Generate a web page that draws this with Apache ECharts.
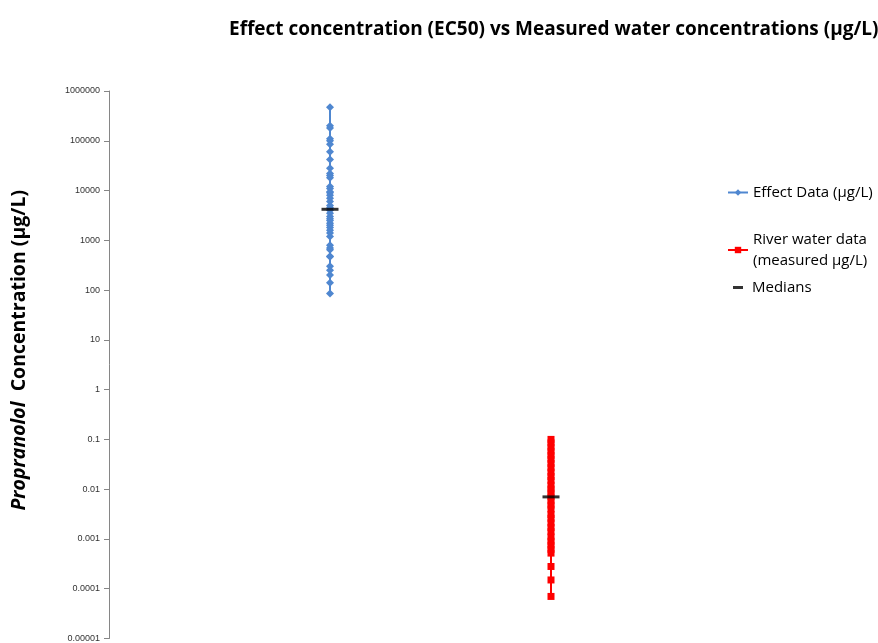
<!DOCTYPE html>
<html><head><meta charset="utf-8">
<script src="https://cdn.jsdelivr.net/npm/echarts@6/dist/echarts.min.js"></script>
<style>html,body{margin:0;padding:0;background:#fff}#c{width:878px;height:643px}</style>
</head><body><div id="c"></div>
<script>
var categories = [1, 2];
var effectData = [470000, 200000, 180000, 110000, 100000, 85000, 60000, 42000, 28000, 22000, 20000, 18000, 12000, 11000, 9500, 9000, 8000, 7000, 6000, 5000, 4500, 4000, 3500, 3000, 2700, 2500, 2200, 2000, 1800, 1600, 1400, 1200, 800, 700, 650, 480, 470, 300, 250, 200, 140, 85];
var riverData = [0.1, 0.085, 0.07, 0.058, 0.048, 0.04, 0.033, 0.027, 0.022, 0.018, 0.015, 0.012, 0.01, 0.0085, 0.007, 0.0058, 0.0048, 0.004, 0.0031, 0.0026, 0.0021, 0.0017, 0.0014, 0.0011, 0.0009, 0.00075, 0.00062, 0.00052, 0.00028, 0.00015, 0.00007];
var medians = [4200, 0.007];
var tickLabels = ['0.00001','0.0001','0.001','0.01','0.1','1','10','100','1000','10000','100000','1000000'];

var chart = echarts.init(document.getElementById('c'));
var legendText = {fontFamily: 'Open Sans', fontSize: 15, color: '#000', lineHeight: 21};
chart.setOption({
  animation: false,
  title: {
    text: 'Effect concentration (EC50) vs Measured water concentrations (µg/L)',
    left: 224, top: 15,
    textStyle: {fontFamily: 'Open Sans', fontSize: 19, fontWeight: 'bold', color: '#000'}
  },
  legend: [{
    orient: 'vertical', left: 722, top: 177, itemGap: 26,
    itemWidth: 20, itemHeight: 8,
    textStyle: legendText,
    data: ['Effect Data (µg/L)', 'River water data\n(measured µg/L)']
  }, {
    orient: 'vertical', left: 728, top: 272,
    itemWidth: 10, itemHeight: 3,
    textStyle: Object.assign({padding: [0, 0, 0, 4]}, legendText),
    data: [{name: 'Medians', icon: 'rect'}]
  }],
  grid: {left: 109, right: 106, top: 91, bottom: 3},
  xAxis: {type: 'value', min: 0, max: 3, show: false},
  yAxis: {
    type: 'log', logBase: 10, min: 0.00001, max: 1000000, interval: 1,
    axisLine: {show: true, lineStyle: {color: '#868686', width: 1}},
    axisTick: {show: true, length: 5, lineStyle: {color: '#868686'}},
    splitLine: {show: false},
    axisLabel: {
      fontFamily: 'Liberation Sans', fontSize: 9, color: '#333', margin: 9, showMinLabel: true, showMaxLabel: true,
      formatter: function (v) { return tickLabels[Math.round(Math.log10(v)) + 5]; }
    }
  },
  graphic: [{
    type: 'text', left: 9, top: 190, rotation: Math.PI / 2,
    style: {
      rich: {
        i: {fontFamily: 'Open Sans', fontSize: 19.5, fontWeight: 'bold', fontStyle: 'italic', fill: '#000'},
        b: {fontFamily: 'Open Sans', fontSize: 19.5, fontWeight: 'bold', fill: '#000'}
      },
      text: '{i|Propranolol}{b|  Concentration (µg/L)}'
    }
  }],
  series: [
    {
      name: 'Effect Data (µg/L)', type: 'line',
      data: effectData.map(function (v) { return [categories[0], v]; }),
      symbol: 'diamond', symbolSize: 8,
      lineStyle: {color: '#4F87D0', width: 2},
      itemStyle: {color: '#4F87D0'}, z: 2
    },
    {
      name: 'River water data\n(measured µg/L)', type: 'line',
      data: riverData.map(function (v) { return [categories[1], v]; }),
      symbol: 'rect', symbolSize: 7,
      lineStyle: {color: '#FF0000', width: 2},
      itemStyle: {color: '#FF0000'}, z: 2
    },
    {
      name: 'Medians', type: 'scatter',
      data: medians.map(function (v, i) { return [categories[i], v]; }),
      symbol: 'rect', symbolSize: [17, 3],
      itemStyle: {color: '#000'}, z: 5
    }
  ]
});
</script></body></html>
